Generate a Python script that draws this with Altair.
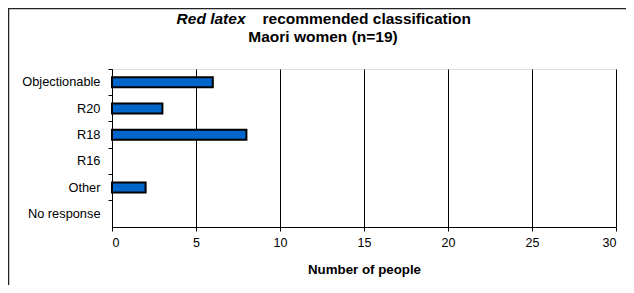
import altair as alt
import pandas as pd

categories = ["Objectionable", "R20", "R18", "R16", "Other", "No response"]
counts = [6, 3, 8, 0, 2, 0]
x_ticks = [0, 5, 10, 15, 20, 25, 30]
title_italic = "Red latex"
title_rest = "recommended classification"
title_line2 = "Maori women (n=19)"
x_title = "Number of people"

FONT = "Liberation Sans"

df = pd.DataFrame({"category": categories, "count": counts})

y_scale = alt.Scale(domain=categories, paddingInner=0, paddingOuter=0)
x_scale = alt.Scale(domain=[0, 30], nice=False)

bars = alt.Chart(df).transform_filter("datum.count > 0").mark_bar(
    size=10, fill="#0066CC", stroke="black", strokeWidth=2
).encode(
    x=alt.X("count:Q", scale=x_scale,
            axis=alt.Axis(values=x_ticks, grid=True, gridColor="black", gridOpacity=1,
                          gridWidth=1, domainColor="black", tickColor="black",
                          tickSize=4, labelPadding=5, labelFont=FONT, labelFontSize=12.5,
                          labelColor="black", title=x_title, titleFont=FONT,
                          titleFontSize=13.3, titleFontWeight="bold", titleColor="black",
                          titleBaseline="alphabetic", titleY=46)),
    y=alt.Y("category:N", scale=y_scale, sort=categories,
            axis=alt.Axis(title=None, bandPosition=0, grid=False, domainColor="black",
                          tickColor="black", tickSize=4, labelPadding=8, labelFont=FONT,
                          labelFontSize=12.8, labelColor="black")),
)

frame = alt.Chart(pd.DataFrame({"k": [0]})).mark_rect(
    fill=None, stroke="#222222", strokeWidth=1.5
).encode(
    x=alt.value(-103.5), x2=alt.value(700),
    y=alt.value(-60.5), y2=alt.value(400),
)

t1 = alt.Chart(pd.DataFrame({"t": [title_italic]})).mark_text(
    font=FONT, fontSize=15.5, fontWeight="bold", fontStyle="italic",
    align="right", baseline="alphabetic", color="black"
).encode(text="t:N", x=alt.value(133.5), y=alt.value(-45))

t2 = alt.Chart(pd.DataFrame({"t": [title_rest]})).mark_text(
    font=FONT, fontSize=15.5, fontWeight="bold",
    align="left", baseline="alphabetic", color="black"
).encode(text="t:N", x=alt.value(150.5), y=alt.value(-45))

t3 = alt.Chart(pd.DataFrame({"t": [title_line2]})).mark_text(
    font=FONT, fontSize=15.5, fontWeight="bold",
    align="center", baseline="alphabetic", color="black"
).encode(text="t:N", x=alt.value(211), y=alt.value(-27))

chart = alt.layer(frame, bars, t1, t2, t3).properties(
    width=504, height=158,
    autosize=alt.AutoSizeParams(type="none"),
    padding={"left": 104, "top": 61, "right": 10, "bottom": 58},
).configure_view(stroke="#808080", strokeWidth=1.5).configure(background="white")

chart.save("out.html", embed_options={"renderer": "svg", "actions": False})
